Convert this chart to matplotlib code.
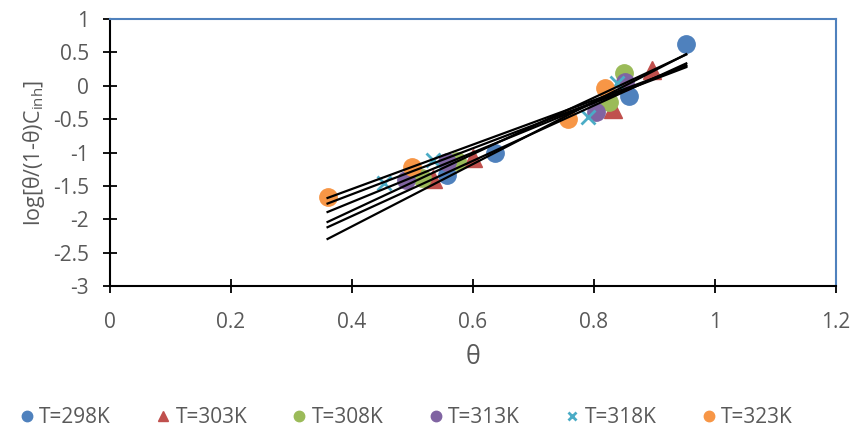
import numpy as np
import matplotlib
matplotlib.use('Agg')
import matplotlib.pyplot as plt

plt.rcParams['font.family'] = ['Open Sans', 'DejaVu Sans']
plt.rcParams['mathtext.default'] = 'regular'

labels = ['T=298K', 'T=303K', 'T=308K', 'T=313K', 'T=318K', 'T=323K']
theta = [
    [0.557, 0.637, 0.858, 0.953],
    [0.535, 0.600, 0.832, 0.897],
    [0.516, 0.574, 0.826, 0.850],
    [0.489, 0.557, 0.803, 0.851],
    [0.453, 0.535, 0.790, 0.839],
    [0.360, 0.499, 0.758, 0.818],
]
logval = [
    [-1.33, -1.00, -0.16, 0.62],
    [-1.40, -1.08, -0.34, 0.24],
    [-1.38, -1.12, -0.24, 0.19],
    [-1.41, -1.14, -0.39, 0.05],
    [-1.46, -1.11, -0.47, 0.04],
    [-1.66, -1.22, -0.50, -0.03],
]
colors = ['#4F81BD', '#C0504D', '#9BBB59', '#8064A2', '#4BACC6', '#F79646']
markers = ['o', '^', 'o', 'o', 'x', 'o']

fig = plt.figure(figsize=(8.51, 4.34), dpi=100)
ax = fig.add_axes([0.129, 0.341, 0.853, 0.615])

xmin = min(min(t) for t in theta)
xmax = max(max(t) for t in theta)
xx = np.array([xmin, xmax])

for t, v, c, m, lab in zip(theta, logval, colors, markers, labels):
    if m == 'x':
        ax.plot(t, v, linestyle='none', marker='x', ms=10, mew=2, color=c, label=lab, zorder=3)
    else:
        ax.plot(t, v, linestyle='none', marker=m, ms=12.5, color=c, mec=c, label=lab, zorder=3)

# linear trendlines
for t, v in zip(theta, logval):
    k, b = np.polyfit(t, v, 1)
    ax.plot(xx, k * xx + b, color='black', lw=1.6, zorder=4)

ax.set_xlim(0, 1.2)
ax.set_ylim(-3, 1)
ax.set_xticks(np.arange(0, 1.21, 0.2))
ax.set_xticklabels(['0', '0.2', '0.4', '0.6', '0.8', '1', '1.2'])
ax.set_yticks(np.arange(-3, 1.01, 0.5))
ax.set_yticklabels(['-3', '-2.5', '-2', '-1.5', '-1', '-0.5', '0', '0.5', '1'])

for s in ['left', 'bottom']:
    ax.spines[s].set_color('black')
    ax.spines[s].set_linewidth(1.5)
for s in ['top', 'right']:
    ax.spines[s].set_color('#4F81BD')
    ax.spines[s].set_linewidth(1.5)

ax.tick_params(direction='inout', length=10, width=1.3, labelsize=15,
               labelcolor='#595959')
ax.tick_params(axis='x', pad=14)
ax.tick_params(axis='y', pad=10)

ax.set_xlabel('θ', fontsize=18, color='#595959', labelpad=8)
ax.set_ylabel('log[θ/(1-θ)C$_{inh}$]', fontsize=15.5, color='#595959', labelpad=4)

handles, labs = ax.get_legend_handles_labels()
leg = fig.legend(handles, labs, loc='center', bbox_to_anchor=(0.478, 0.037), ncol=6,
                 frameon=False, fontsize=15, markerscale=0.6, handlelength=0.6,
                 handletextpad=0.3, columnspacing=2.2)
for txt in leg.get_texts():
    txt.set_color('#595959')

fig.savefig('out.png', dpi=100)
